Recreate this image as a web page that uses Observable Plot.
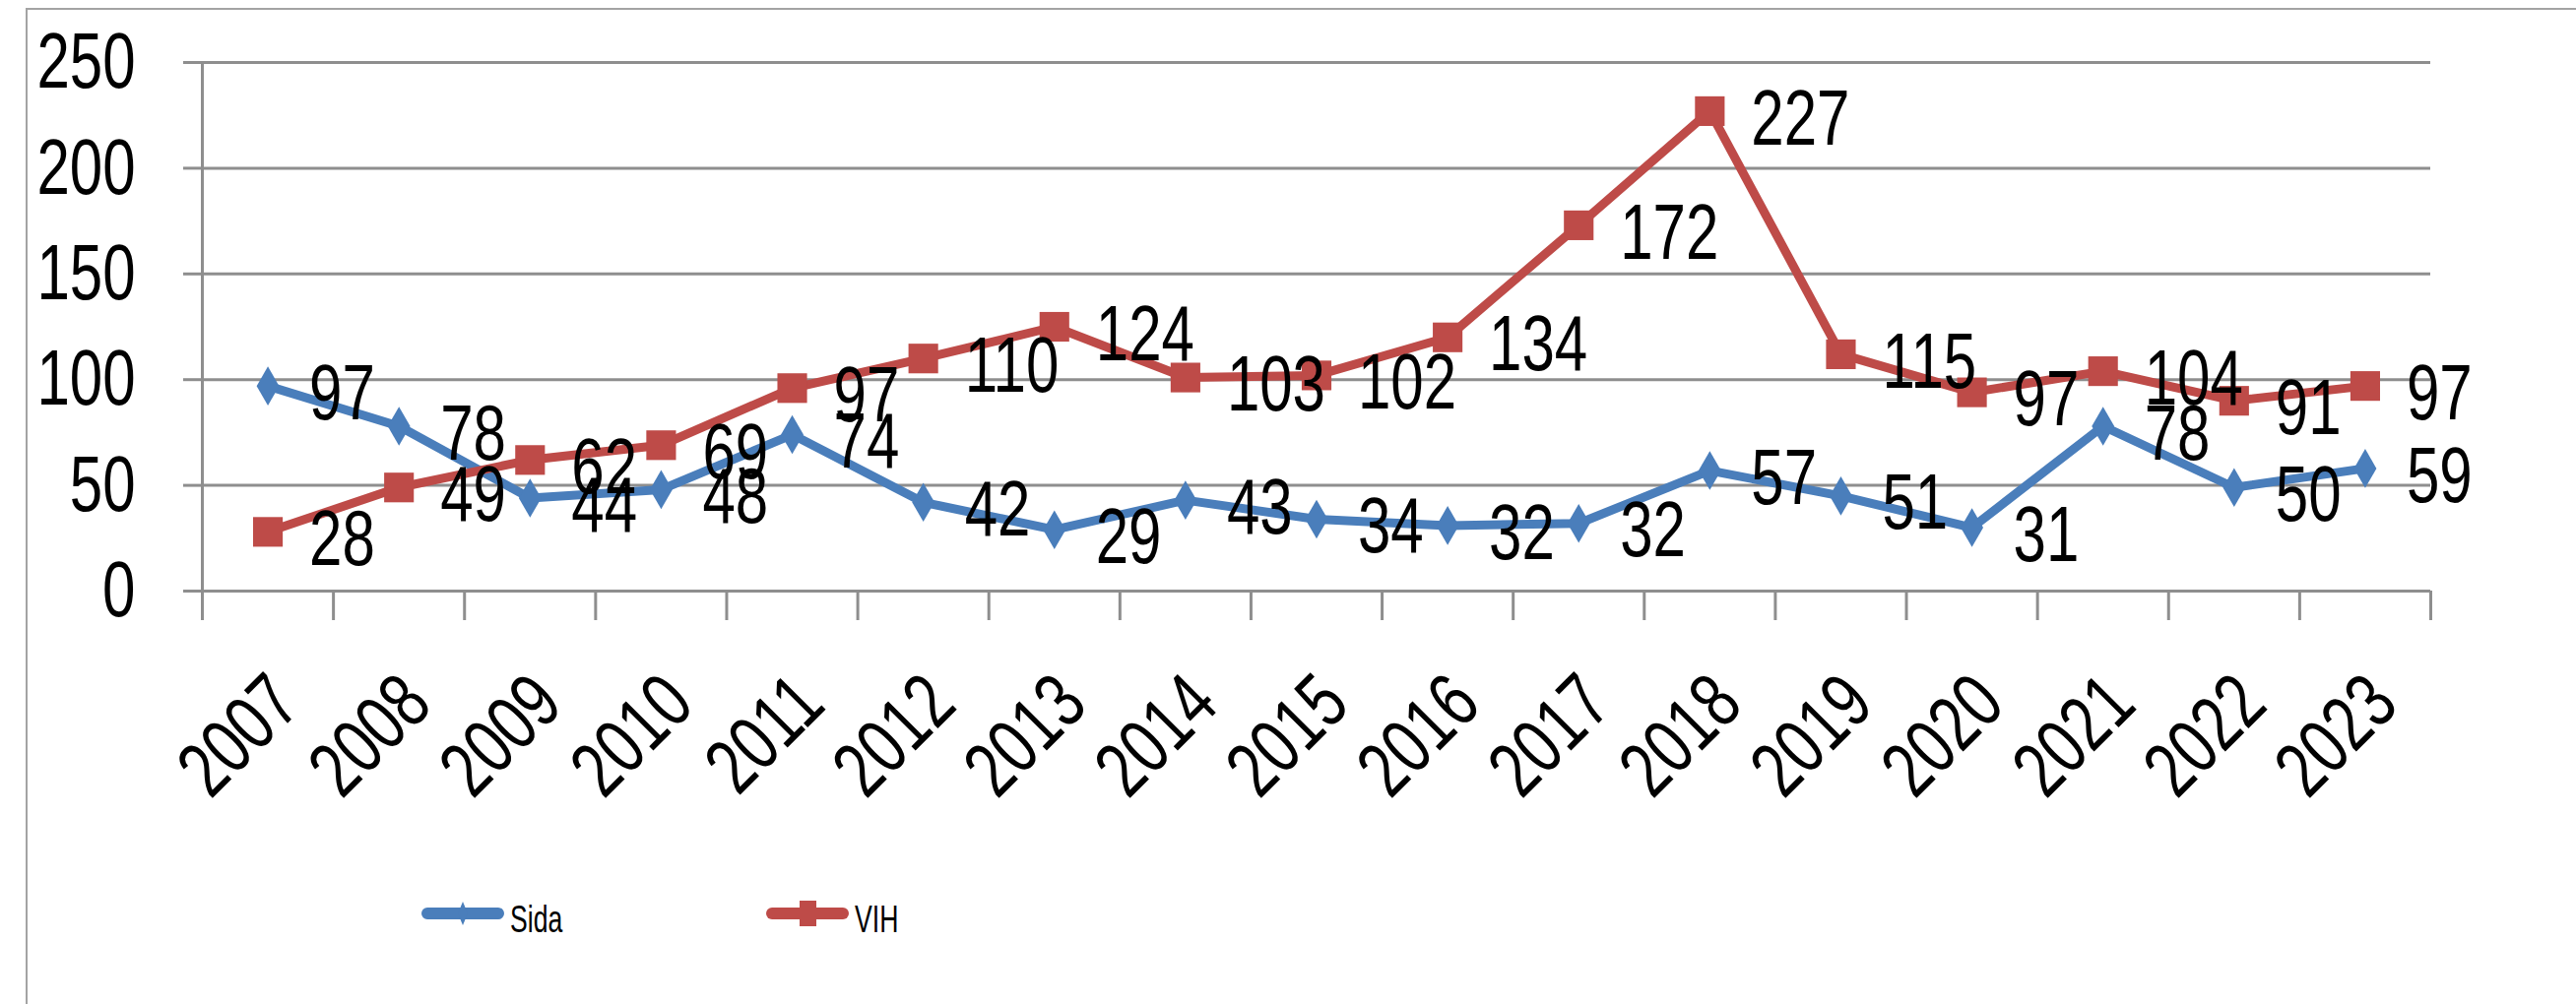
<!DOCTYPE html>
<html>
<head>
<meta charset="utf-8">
<script src="https://cdn.jsdelivr.net/npm/d3@7"></script>
<script src="https://cdn.jsdelivr.net/npm/@observablehq/plot@0.6"></script>
<style>
  html, body { margin: 0; padding: 0; background: #fff; }
  body { width: 2616px; height: 1020px; overflow: hidden; position: relative;
         font-family: "Liberation Sans", Arial, sans-serif; }
  #frame { position: absolute; left: 26px; top: 8px; width: 2640px; height: 1060px;
           border-left: 2px solid #a3a3a3; border-top: 2px solid #a3a3a3; }
  #chart { position: absolute; left: 0; top: 0; }
  #legend { position: absolute; left: 0; top: 880px; }
</style>
</head>
<body>
<div id="frame"></div>
<div id="chart"></div>
<div id="legend"></div>
<script>
// ---- data ----
const years = [2007, 2008, 2009, 2010, 2011, 2012, 2013, 2014, 2015, 2016, 2017, 2018, 2019, 2020, 2021, 2022, 2023];
// plotted positions
const sida = [97, 78, 44, 48, 74, 42, 29, 43, 34, 31, 32, 57, 45, 30, 78, 49, 58];
const vih  = [28, 49, 62, 69, 96, 110, 125, 101, 102, 120, 173, 227, 112, 94, 104, 90, 97];
// data-label texts printed on the chart
const sidaLabels = [97, 78, 44, 48, 74, 42, 29, 43, 34, 32, 32, 57, 51, 31, 78, 50, 59];
const vihLabels  = [28, 49, 62, 69, 97, 110, 124, 103, 102, 134, 172, 227, 115, 97, 104, 91, 97];
const yTicks = [0, 50, 100, 150, 200, 250];
const seriesNames = ["Sida", "VIH"];
const seriesColors = ["#4a7ebb", "#be4b48"];
const seriesSymbols = ["diamond", "square"];

// ---- build ----
const FONT = '"Liberation Sans", Arial, sans-serif';
const values = {Sida: sida, VIH: vih};
const labels = {Sida: sidaLabels, VIH: vihLabels};
const rows = seriesNames.flatMap(s => years.map((year, i) => ({year, series: s, value: values[s][i], label: labels[s][i]})));
const bounds = [years[0] - 0.5, ...years.map(y => y + 0.5)];
const GRID = "#8e8e8e";
const markerR = {Sida: 12, VIH: 17};

const seriesMarks = seriesNames.flatMap(s => [
  Plot.line(rows.filter(d => d.series === s), {x: "year", y: "value", stroke: "series", strokeWidth: 9, strokeLinejoin: "round"}),
  Plot.dot(rows.filter(d => d.series === s), {x: "year", y: "value", fill: "series", symbol: "series", r: markerR[s], stroke: null})
]);

const chart = Plot.plot({
  width: 2616,
  height: 860,
  marginLeft: 205,
  marginRight: 148,
  marginTop: 63,
  marginBottom: 260,
  style: {fontFamily: FONT, background: "transparent", color: "#000", overflow: "visible"},
  x: {type: "linear", domain: [bounds[0], bounds[bounds.length - 1]], axis: null},
  y: {domain: [0, 250], axis: null},
  color: {domain: seriesNames, range: seriesColors},
  symbol: {domain: seriesNames, range: seriesSymbols},
  marks: [
    Plot.ruleY(yTicks, {stroke: GRID, strokeWidth: 3}),
    Plot.axisY({ticks: yTicks, tickSize: 19, tickPadding: 49, fontSize: 80, stroke: GRID, strokeWidth: 3, tickFormat: d => String(d), label: null}),
    Plot.ruleX([bounds[0]], {stroke: GRID, strokeWidth: 3}),
    Plot.axisX({ticks: bounds, tickSize: 30, tickFormat: () => "", stroke: GRID, strokeWidth: 3, label: null}),
    Plot.text(years, {x: d => d, text: d => String(d), frameAnchor: "bottom", rotate: -45, textAnchor: "end", lineAnchor: "middle", dx: 18, dy: 100, fontSize: 80, fill: "#000"}),
    ...seriesMarks,
    Plot.text(rows, {x: "year", y: "value", text: d => String(d.label), textAnchor: "start", lineAnchor: "middle", dx: 42, dy: 8, fontSize: 80, fill: "#000"})
  ]
});
document.getElementById("chart").appendChild(chart);

// condense the glyphs horizontally, like the narrow face of the original
function condense(root, factor) {
  root.querySelectorAll("text").forEach(el => {
    if (!el.textContent.trim()) return;
    const len = el.getComputedTextLength();
    if (len > 0) {
      el.setAttribute("textLength", (len * factor).toFixed(1));
      el.setAttribute("lengthAdjust", "spacingAndGlyphs");
    }
  });
}
condense(chart, 0.75);

// ---- legend ----
const legendX = [428, 778];
const lsvg = d3.select("#legend").append("svg").attr("width", 2616).attr("height", 120);
seriesNames.forEach((name, i) => {
  const g = lsvg.append("g").attr("transform", `translate(${legendX[i]},48)`);
  g.append("line").attr("x1", 6).attr("x2", 78).attr("y1", 0).attr("y2", 0)
    .attr("stroke", seriesColors[i]).attr("stroke-width", 12).attr("stroke-linecap", "round");
  if (seriesSymbols[i] === "diamond") {
    g.append("path").attr("d", "M42,-12 L47,0 L42,12 L37,0 Z").attr("fill", seriesColors[i]);
  } else {
    g.append("rect").attr("x", 34).attr("y", -13).attr("width", 17).attr("height", 26).attr("fill", seriesColors[i]);
  }
  g.append("text").attr("x", 90).attr("y", 19).attr("font-size", 38).attr("font-family", FONT)
    .attr("fill", "#000").text(name);
});
condense(lsvg.node(), 0.7);
</script>
</body>
</html>
